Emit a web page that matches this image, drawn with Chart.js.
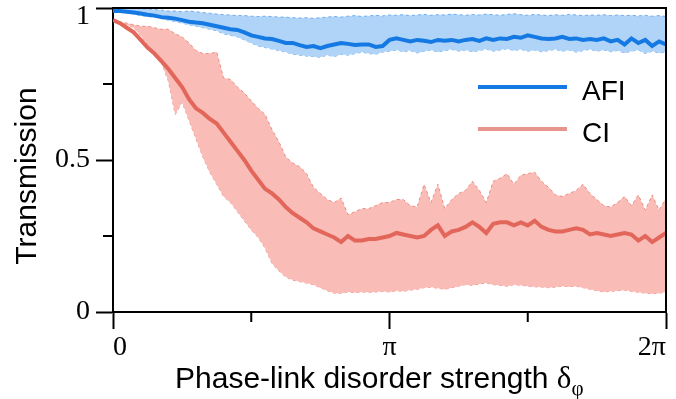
<!DOCTYPE html>
<html>
<head>
<meta charset="utf-8">
<script src="https://cdn.jsdelivr.net/npm/chart.js@4.4.1/dist/chart.umd.min.js"></script>
<style>
  html, body { margin: 0; padding: 0; background: #fff; }
  #wrap { width: 676px; height: 399px; }
</style>
</head>
<body>
<div id="wrap"><canvas id="transmissionChart"></canvas></div>
<script>
// disorder strength on the x axis, in units of pi
const phaseGrid = [
  0, 0.025, 0.05, 0.075, 0.1, 0.125, 0.15, 0.175, 0.2, 0.225,
  0.25, 0.275, 0.3, 0.325, 0.35, 0.375, 0.4, 0.425, 0.45, 0.475,
  0.5, 0.525, 0.55, 0.575, 0.6, 0.625, 0.65, 0.675, 0.7, 0.725,
  0.75, 0.775, 0.8, 0.825, 0.85, 0.875, 0.9, 0.925, 0.95, 0.975,
  1, 1.025, 1.05, 1.075, 1.1, 1.125, 1.15, 1.175, 1.2, 1.225,
  1.25, 1.275, 1.3, 1.325, 1.35, 1.375, 1.4, 1.425, 1.45, 1.475,
  1.5, 1.525, 1.55, 1.575, 1.6, 1.625, 1.65, 1.675, 1.7, 1.725,
  1.75, 1.775, 1.8, 1.825, 1.85, 1.875, 1.9, 1.925, 1.95, 1.975,
  2
];

// AFI transmission: mean and spread
const afiMean = [
  0.99, 0.99, 0.988, 0.985, 0.982, 0.978, 0.975, 0.97, 0.968, 0.965,
  0.96, 0.955, 0.952, 0.95, 0.945, 0.94, 0.935, 0.93, 0.928, 0.92,
  0.91, 0.905, 0.9, 0.898, 0.892, 0.885, 0.885, 0.878, 0.872, 0.875,
  0.868, 0.875, 0.88, 0.885, 0.882, 0.878, 0.88, 0.88, 0.872, 0.875,
  0.895, 0.9, 0.895, 0.89, 0.895, 0.892, 0.888, 0.895, 0.892, 0.895,
  0.89, 0.895, 0.898, 0.892, 0.9, 0.895, 0.9, 0.898, 0.905, 0.902,
  0.91, 0.905, 0.9, 0.898, 0.9, 0.905, 0.898, 0.9, 0.895, 0.898,
  0.895, 0.9, 0.89, 0.895, 0.88, 0.9, 0.885, 0.895, 0.875, 0.89,
  0.88
];
const afiUpper = [
  1.0, 1.0, 1.0, 0.998, 0.998, 0.997, 0.995, 0.993, 0.99, 0.99,
  0.988, 0.99, 0.988, 0.985, 0.983, 0.98, 0.978, 0.977, 0.975, 0.975,
  0.973, 0.972, 0.973, 0.972, 0.97, 0.97, 0.968, 0.967, 0.968, 0.966,
  0.968, 0.97, 0.972, 0.97, 0.973, 0.975, 0.972, 0.974, 0.976, 0.974,
  0.977, 0.976, 0.978, 0.975, 0.977, 0.979, 0.976, 0.978, 0.977, 0.98,
  0.978, 0.976, 0.979, 0.977, 0.98, 0.978, 0.976, 0.979, 0.981, 0.978,
  0.976, 0.979, 0.977, 0.975, 0.978, 0.976, 0.979, 0.977, 0.975, 0.977,
  0.976, 0.978, 0.975, 0.977, 0.975, 0.976, 0.974, 0.976, 0.973, 0.975,
  0.972
];
const afiLower = [
  0.99, 0.988, 0.985, 0.98, 0.975, 0.972, 0.97, 0.965, 0.96, 0.955,
  0.95, 0.945, 0.94, 0.935, 0.93, 0.925, 0.915, 0.91, 0.905, 0.895,
  0.885, 0.875, 0.87, 0.865, 0.86, 0.855, 0.848, 0.845, 0.842, 0.84,
  0.838, 0.845, 0.84, 0.848, 0.845, 0.85, 0.855, 0.85, 0.848, 0.855,
  0.858, 0.862, 0.856, 0.86, 0.852, 0.858, 0.862, 0.855, 0.86, 0.864,
  0.858, 0.862, 0.856, 0.86, 0.865, 0.858, 0.862, 0.866, 0.86, 0.864,
  0.858, 0.862, 0.856, 0.86, 0.864, 0.858, 0.862, 0.855, 0.86, 0.864,
  0.858, 0.862, 0.856, 0.86, 0.852, 0.858, 0.862, 0.85, 0.858, 0.852,
  0.855
];

// CI transmission: mean and spread
const ciMean = [
  0.96, 0.95, 0.935, 0.92, 0.895, 0.87, 0.85, 0.825, 0.8, 0.77,
  0.74, 0.7, 0.67, 0.655, 0.635, 0.62, 0.59, 0.56, 0.53, 0.5,
  0.465, 0.435, 0.405, 0.39, 0.37, 0.345, 0.325, 0.31, 0.295, 0.275,
  0.265, 0.255, 0.245, 0.23, 0.25, 0.235, 0.235, 0.24, 0.24, 0.245,
  0.25, 0.26, 0.255, 0.25, 0.245, 0.25, 0.27, 0.285, 0.25, 0.265,
  0.27, 0.28, 0.295, 0.28, 0.26, 0.29, 0.295, 0.295, 0.285, 0.295,
  0.285, 0.3, 0.28, 0.27, 0.265, 0.265, 0.27, 0.275, 0.27, 0.255,
  0.26, 0.255, 0.25, 0.255, 0.26, 0.255, 0.235, 0.25, 0.23, 0.245,
  0.26
];
const ciUpper = [
  0.96, 0.955, 0.95, 0.945, 0.94, 0.94, 0.935, 0.93, 0.93, 0.915,
  0.905, 0.885, 0.86, 0.85, 0.85, 0.855, 0.77, 0.765, 0.74, 0.72,
  0.695, 0.67, 0.65, 0.6, 0.56, 0.51, 0.49, 0.478, 0.455, 0.41,
  0.39, 0.37, 0.36, 0.375, 0.32, 0.33, 0.34, 0.34, 0.35, 0.36,
  0.36, 0.37, 0.37, 0.35, 0.345, 0.42, 0.36, 0.42, 0.34, 0.37,
  0.39, 0.4, 0.43, 0.4, 0.36, 0.43, 0.44, 0.455, 0.42, 0.45,
  0.455, 0.46, 0.43, 0.41, 0.385, 0.38, 0.39, 0.4, 0.42, 0.39,
  0.37, 0.35, 0.345, 0.36, 0.38, 0.35, 0.385, 0.335, 0.385, 0.335,
  0.375
];
const ciLower = [
  0.96, 0.95, 0.945, 0.935, 0.91, 0.88, 0.85, 0.82, 0.76, 0.65,
  0.69, 0.63, 0.57, 0.51, 0.46, 0.42, 0.38, 0.36, 0.33, 0.3,
  0.27, 0.245, 0.21, 0.16, 0.135, 0.115, 0.105, 0.1, 0.095, 0.09,
  0.08, 0.07, 0.062, 0.062, 0.066, 0.064, 0.066, 0.065, 0.066, 0.068,
  0.066, 0.07, 0.068, 0.072, 0.075, 0.08, 0.082, 0.078, 0.075, 0.08,
  0.085, 0.09, 0.088, 0.092, 0.095, 0.09, 0.088, 0.085, 0.09, 0.088,
  0.085, 0.083, 0.082, 0.08, 0.082, 0.085, 0.083, 0.085, 0.08, 0.075,
  0.07, 0.066, 0.068, 0.07, 0.072, 0.068, 0.065, 0.062, 0.06, 0.062,
  0.066
];

const SANS = "'Liberation Sans', Arial, sans-serif";
const SERIF = "'Liberation Serif', 'Times New Roman', serif";

const AFI_LINE = '#1479e2';
const AFI_FILL = '#b0d4f7';
const AFI_EDGE = '#6aaaf0';
const CI_LINE = '#e2665a';
const CI_FILL = '#f9bcb7';
const CI_EDGE = '#ee8a80';
const CI_KEY = '#e8968c';

const pts = (ys) => phaseGrid.map((x, i) => ({ x, y: ys[i] }));

function meanLine(label, ys, color) {
  return {
    label, data: pts(ys), borderColor: color, borderWidth: 4,
    pointRadius: 0, fill: false, tension: 0
  };
}

function bandEdge(label, ys, edge, fill, fillTo) {
  return {
    label, data: pts(ys), borderColor: edge, borderWidth: 1, borderDash: [3, 3],
    backgroundColor: fill, pointRadius: 0, tension: 0,
    fill: fillTo
  };
}

// frame, minor ticks, axis titles and the in-plot key
const decorations = {
  id: 'decorations',
  afterDraw(chart) {
    const { ctx, chartArea: a, scales: { x, y } } = chart;
    ctx.save();
    ctx.strokeStyle = '#000';
    ctx.lineWidth = 2;
    ctx.beginPath();
    ctx.moveTo(a.left, a.top);
    ctx.lineTo(a.right, a.top);
    ctx.lineTo(a.right, a.bottom);
    ctx.stroke();

    ctx.beginPath();
    x.ticks.filter(t => t.value % 1 !== 0).forEach(t => {
      const px = x.getPixelForValue(t.value);
      ctx.moveTo(px, a.bottom);
      ctx.lineTo(px, a.bottom + 10);
    });
    y.ticks.filter(t => t.value % 0.5 !== 0).forEach(t => {
      const py = y.getPixelForValue(t.value);
      ctx.moveTo(a.left, py);
      ctx.lineTo(a.left - 10, py);
    });
    ctx.stroke();

    ctx.fillStyle = '#000';
    // y title
    ctx.save();
    ctx.translate(36, 176);
    ctx.rotate(-Math.PI / 2);
    ctx.font = '30px ' + SANS;
    ctx.textAlign = 'center';
    ctx.textBaseline = 'alphabetic';
    ctx.fillText('Transmission', 0, 0);
    ctx.restore();

    // x title with delta_phi
    const main = 'Phase-link disorder strength ';
    ctx.textAlign = 'left';
    ctx.textBaseline = 'alphabetic';
    ctx.font = '30px ' + SANS;
    const w1 = ctx.measureText(main).width;
    ctx.font = '31px ' + SERIF;
    const w2 = ctx.measureText('δ').width;
    let tx = 175;
    const base = 388;
    ctx.font = '30px ' + SANS;
    ctx.fillText(main, tx, base);
    tx += w1;
    ctx.font = '31px ' + SERIF;
    ctx.fillText('δ', tx, base);
    tx += w2;
    ctx.font = '21px ' + SERIF;
    ctx.fillText('φ', tx, base + 7);

    // key
    const keys = [
      { text: 'AFI', color: AFI_LINE, y: 87 },
      { text: 'CI', color: CI_KEY, y: 129 }
    ];
    ctx.font = '28px ' + SANS;
    ctx.lineWidth = 4;
    keys.forEach(k => {
      ctx.strokeStyle = k.color;
      ctx.beginPath();
      ctx.moveTo(478, k.y);
      ctx.lineTo(567, k.y);
      ctx.stroke();
      ctx.fillText(k.text, 582, k.y + 13);
    });
    ctx.restore();
  }
};

new Chart(document.getElementById('transmissionChart'), {
  type: 'line',
  data: {
    datasets: [
      meanLine('AFI', afiMean, AFI_LINE),
      meanLine('CI', ciMean, CI_LINE),
      bandEdge('AFI upper', afiUpper, AFI_EDGE, AFI_FILL, '+1'),
      bandEdge('AFI lower', afiLower, AFI_EDGE, AFI_FILL, false),
      bandEdge('CI upper', ciUpper, CI_EDGE, CI_FILL, '+1'),
      bandEdge('CI lower', ciLower, CI_EDGE, CI_FILL, false)
    ]
  },
  options: {
    responsive: true,
    maintainAspectRatio: false,
    animation: false,
    layout: { padding: { top: 8, right: 10, left: 0, bottom: 0 } },
    plugins: { legend: { display: false }, tooltip: { enabled: false } },
    scales: {
      x: {
        type: 'linear',
        min: 0,
        max: 2,
        afterFit: (s) => { s.height = 87; s.paddingLeft = 0; s.paddingRight = 0; },
        border: { color: '#000', width: 2 },
        grid: {
          drawOnChartArea: false,
          tickLength: 17,
          tickWidth: 2,
          tickColor: (c) => (c.tick && c.tick.value % 1 === 0 ? '#000' : 'rgba(0,0,0,0)')
        },
        ticks: {
          stepSize: 0.5,
          autoSkip: false,
          maxRotation: 0,
          align: 'inner',
          padding: 2,
          color: '#000',
          font: { family: SERIF, size: 28 },
          callback: (v) => (v === 0 ? '0' : v === 1 ? 'π' : v === 2 ? '2π' : '')
        }
      },
      y: {
        min: 0,
        max: 1,
        afterFit: (s) => { s.width = 113; s.paddingTop = 0; s.paddingBottom = 0; },
        border: { color: '#000', width: 2 },
        grid: {
          drawOnChartArea: false,
          tickLength: 17,
          tickWidth: 2,
          tickColor: (c) => (c.tick && c.tick.value % 0.5 === 0 ? '#000' : 'rgba(0,0,0,0)')
        },
        ticks: {
          stepSize: 0.25,
          padding: 6,
          color: '#000',
          font: { family: SERIF, size: 28, lineHeight: 0.6 },
          callback: (v) => (v === 1 ? ['', '1'] : v === 0.5 ? '0.5' : v === 0 ? '0' : '')
        }
      }
    }
  },
  plugins: [decorations]
});
</script>
</body>
</html>
